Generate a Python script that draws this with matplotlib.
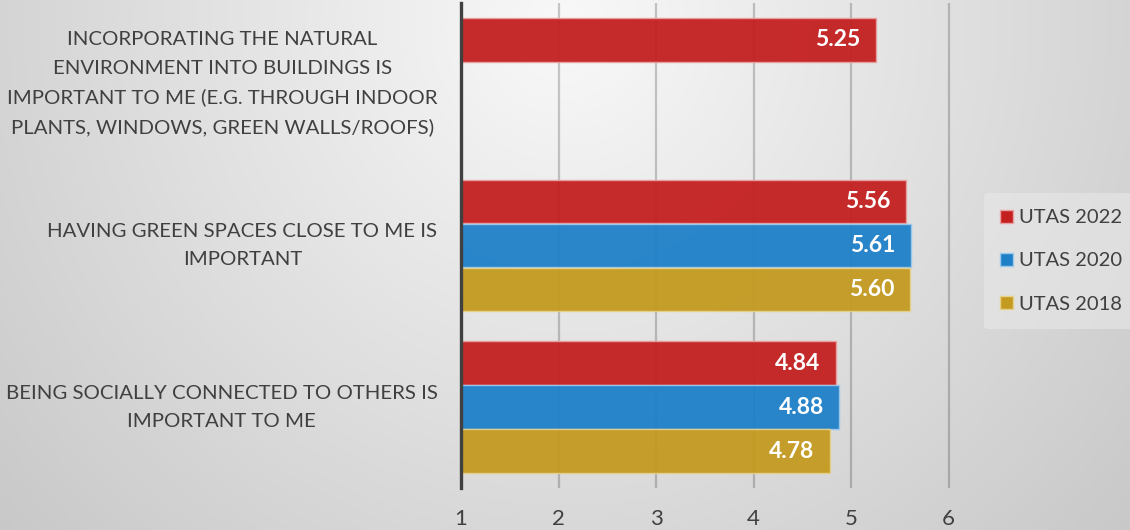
import matplotlib.pyplot as plt
import numpy as np
from matplotlib.patches import Patch

# data
categories = [
    "INCORPORATING THE NATURAL\nENVIRONMENT INTO BUILDINGS IS\nIMPORTANT TO ME (E.G. THROUGH INDOOR\nPLANTS, WINDOWS, GREEN WALLS/ROOFS)",
    "HAVING GREEN SPACES CLOSE TO ME IS\nIMPORTANT",
    "BEING SOCIALLY CONNECTED TO OTHERS IS\nIMPORTANT TO ME",
]
series_names = ["UTAS 2022", "UTAS 2020", "UTAS 2018"]
utas_2022 = [5.25, 5.56, 4.84]
utas_2020 = [np.nan, 5.61, 4.88]
utas_2018 = [np.nan, 5.60, 4.78]
x_ticks = [1, 2, 3, 4, 5, 6]

colors = ["#c42020", "#1f80c8", "#c49a20"]
edge_colors = ["#e8a0a0", "#9cc8ec", "#e6d08c"]
text_color = "#404040"
font = "Lato"

fig = plt.figure(figsize=(11.3, 5.3), dpi=100)

# radial grey background like the original slide
bg = fig.add_axes([0, 0, 1, 1], zorder=-10)
yy, xx = np.mgrid[0:530, 0:1130]
d = np.sqrt((xx - 565) ** 2 + (yy - 26) ** 2) / 757
shade = np.clip(0.975 - 0.19 * d, 0, 1)
bg.imshow(np.dstack([shade, shade, shade]), aspect="auto", extent=[0, 1, 0, 1])
bg.axis("off")

ax = fig.add_axes([461 / 1130, 42 / 530, 517 / 1130, 485 / 530])
ax.patch.set_alpha(0)

y = np.arange(len(categories))
bar_h = 0.27
offsets = [-0.272, 0.0, 0.272]
all_series = [utas_2022, utas_2020, utas_2018]

for vals, off, c, ec in zip(all_series, offsets, colors, edge_colors):
    vals = np.array(vals, dtype=float)
    ax.barh(y + off, vals - 1, left=1, height=bar_h, color=c, alpha=0.95,
            edgecolor=ec, linewidth=1, zorder=3)
    for yi, v in zip(y, vals):
        if np.isnan(v):
            continue
        ax.annotate(f"{v:.2f}", xy=(v, yi + off), xytext=(-11, 0),
                    textcoords="offset points", ha="right", va="center",
                    color="white", fontsize=16.5, fontweight="bold",
                    family=font, zorder=4)

ax.set_xlim(1, 6.3)
ax.set_ylim(2.5, -0.5)
ax.set_xticks(x_ticks)
ax.tick_params(axis="x", length=0, pad=15, labelsize=16, labelcolor=text_color)
for lbl in ax.get_xticklabels():
    lbl.set_family(font)
ax.set_yticks([])
ax.grid(axis="x", color="black", alpha=0.2, linewidth=1.6, zorder=1)
ax.set_axisbelow(True)
for side in ["top", "right", "bottom"]:
    ax.spines[side].set_visible(False)
ax.spines["left"].set_color("#404040")
ax.spines["left"].set_linewidth(2.4)
ax.spines["left"].set_zorder(5)

# category labels: block right-aligned, lines centred
for yi, cat in zip(y, categories):
    ax.annotate(cat, xy=(0, yi), xycoords=("axes fraction", "data"),
                xytext=(-17, 0), textcoords="offset points",
                ha="right", va="center", multialignment="center",
                fontsize=14.7, color=text_color, family=font, linespacing=1.8)

handles = [Patch(facecolor=c, edgecolor=ec, linewidth=1) for c, ec in zip(colors, edge_colors)]
leg = fig.legend(handles, series_names, loc="center left",
                 bbox_to_anchor=(984 / 1130, 1 - 261 / 530), frameon=True,
                 facecolor="#e8e8e8", edgecolor="none", framealpha=0.6,
                 handlelength=0.65, handleheight=0.65, handletextpad=0.3,
                 labelspacing=1.3, borderpad=0.8, borderaxespad=0,
                 prop={"family": font, "size": 14.5})
for t in leg.get_texts():
    t.set_color(text_color)

fig.savefig("out.png", dpi=100)
